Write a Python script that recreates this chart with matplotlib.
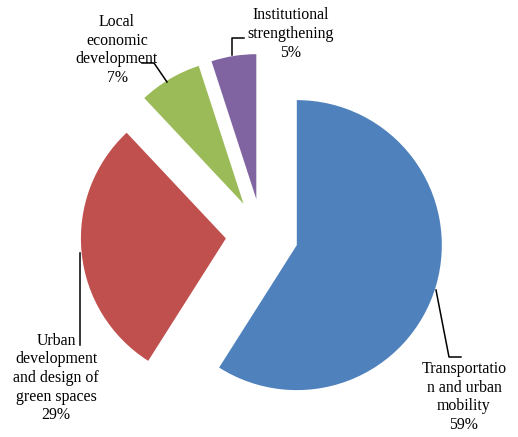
import matplotlib
matplotlib.use("Agg")
import matplotlib.pyplot as plt

# share of projects by thematic area
areas = ["Transportation and urban mobility",
         "Urban development and design of green spaces",
         "Local economic development",
         "Institutional strengthening"]
shares = [59, 29, 7, 5]
label_text = ["Transportatio\nn and urban\nmobility\n59%",
              "Urban\ndevelopment\nand design of\ngreen spaces\n29%",
              "Local\neconomic\ndevelopment\n7%",
              "Institutional\nstrengthening\n5%"]
colors = ["#4F81BD", "#C0504D", "#9BBB59", "#8064A2"]

W, H = 518, 437
CX, CY, R = 262, 235, 145

def at(x, y):
    # figure pixel position -> pie data units
    return ((x - CX) / R, (CY - y) / R)

fig = plt.figure(figsize=(W / 100, H / 100), dpi=100)
ax = fig.add_axes([0, 0, 1, 1])
ax.pie(shares, colors=colors, startangle=90, counterclock=False,
       explode=[0.25] * 4, radius=1, wedgeprops=dict(linewidth=0))
x0, y0 = at(0, H)
x1, y1 = at(W, 0)
ax.set_xlim(x0, x1)
ax.set_ylim(y0, y1)
ax.set_aspect("equal")
ax.axis("off")

# data labels
label_pos = [(464, 397), (56, 378), (117, 50), (291, 34)]
for txt, (px, py) in zip(label_text, label_pos):
    ax.text(*at(px, py), txt, ha="center", va="center", fontsize=11.4,
            family="Liberation Serif", linespacing=1.22)

# leader lines
leaders = [[(436, 290), (449, 357), (461, 357)],
           [(80, 253), (80, 345)],
           [(167, 82), (154, 63), (142, 63)],
           [(232, 55), (232, 38), (244, 38)]]
for pts in leaders:
    xy = [at(px, py) for px, py in pts]
    ax.plot([p[0] for p in xy], [p[1] for p in xy], color="black", lw=1.1)

fig.savefig("out.png", dpi=100)
